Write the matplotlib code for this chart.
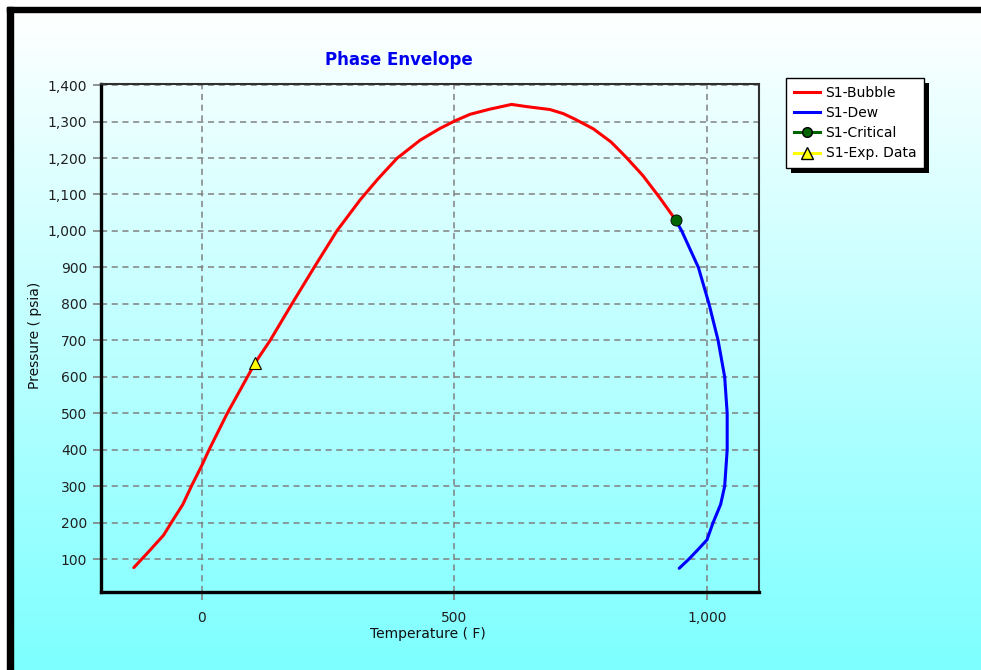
import numpy as np
import matplotlib
matplotlib.use("Agg")
import matplotlib.pyplot as plt
from matplotlib.patches import Rectangle
from matplotlib.ticker import FuncFormatter
from matplotlib.lines import Line2D

plt.rcParams['font.family'] = ['DejaVu Sans']

# ---- data ----
bubble_T = [-135, -106, -76, -60, -38, -20, 0, 14, 50, 90, 105, 135, 178, 222, 267,
            313, 348, 386, 432, 471, 501, 531, 570, 613, 643, 689, 715, 738, 775, 810,
            840, 873, 906, 938]
bubble_P = [77, 120, 166, 202, 250, 303, 358, 400, 500, 600, 638, 700, 800, 900, 1000,
            1085, 1142, 1199, 1249, 1281, 1302, 1320, 1334, 1347, 1341, 1333, 1322, 1307,
            1280, 1244, 1202, 1152, 1092, 1030]
dew_T = [938, 950, 983, 1004, 1022, 1035, 1040, 1040, 1035, 1027, 1012, 1000, 982, 964, 945]
dew_P = [1030, 1000, 900, 800, 700, 600, 500, 400, 300, 250, 200, 153, 126, 100, 75]
crit_T = [938]
crit_P = [1030]
exp_T = [105]
exp_P = [638]
x_ticks = [0, 500, 1000]
y_ticks = list(range(100, 1401, 100))

W, H = 981, 670
fig = plt.figure(figsize=(W / 100, H / 100), dpi=100)

# background gradient
bg = fig.add_axes([0, 0, 1, 1], zorder=-10)
r = np.clip(255 - 130 * (np.arange(H) - 10) / 660, 125, 255) / 255.0
img = np.zeros((H, 1, 3))
img[:, 0, 0] = r
img[:, 0, 1] = 1
img[:, 0, 2] = 1
bg.imshow(img, aspect='auto', extent=[0, W, H, 0])
bg.set_xlim(0, W)
bg.set_ylim(H, 0)
bg.axis('off')
bg.add_patch(Rectangle((0, 0), W, 7, color='white', zorder=2))
bg.add_patch(Rectangle((0, 0), 7, H, color='white', zorder=2))
bg.add_patch(Rectangle((7, 7), W, 5, color='black', zorder=3))
bg.add_patch(Rectangle((7, 7), 6, H, color='black', zorder=3))

# main axes
L, R, T, B = 101, 759, 84, 592
ax = fig.add_axes([L / W, (H - B) / H, (R - L) / W, (B - T) / H])
ax.set_facecolor('none')
ax.set_xlim(-200, 1103)
ax.set_ylim(10, 1403)
ax.set_xticks(x_ticks)
ax.set_yticks(y_ticks)
fmt = FuncFormatter(lambda v, p: f"{int(v):,}")
ax.xaxis.set_major_formatter(fmt)
ax.yaxis.set_major_formatter(fmt)
ax.tick_params(axis='both', direction='out', length=6, width=1.2, color='#808080',
               labelsize=10, labelcolor='#202020', pad=4)
ax.tick_params(axis='x', pad=8)
ax.grid(True, color='#808080', linestyle=(0, (4, 3)), linewidth=1.1)
for s in ['left', 'bottom']:
    ax.spines[s].set_linewidth(2.4)
    ax.spines[s].set_color('black')
for s in ['top', 'right']:
    ax.spines[s].set_linewidth(1.5)
    ax.spines[s].set_color('#303030')

ax.plot(bubble_T, bubble_P, color='#ff0000', lw=2.2, solid_capstyle='round',
        solid_joinstyle='round', zorder=3)
ax.plot(dew_T, dew_P, color='#0000ff', lw=2.2, solid_capstyle='round',
        solid_joinstyle='round', zorder=3)
ax.plot(crit_T, crit_P, 'o', color='#006400', mec='black', mew=0.6, ms=8, zorder=4)
ax.plot(exp_T, exp_P, '^', color='#ffff00', mec='black', mew=0.8, ms=9, zorder=4)

fig.text(399 / W, 1 - 60 / H, 'Phase Envelope', color='#0000ee', fontsize=12,
         fontweight='bold', ha='center', va='center')
fig.text(428 / W, 1 - 634 / H, 'Temperature ( F)', fontsize=10, color='#101010',
         ha='center', va='center')
fig.text(35 / W, 1 - 335 / H, 'Pressure ( psia)', fontsize=10, color='#101010',
         ha='center', va='center', rotation=90)

handles = [
    Line2D([], [], color='#ff0000', lw=2.2),
    Line2D([], [], color='#0000ff', lw=2.2),
    Line2D([], [], color='#006400', lw=2.2, marker='o', mfc='#006400', mec='black', ms=7),
    Line2D([], [], color='#ffff00', lw=2.2, marker='^', mfc='#ffff00', mec='black', ms=8),
]
labels = ['S1-Bubble', 'S1-Dew', 'S1-Critical', 'S1-Exp. Data']
leg = fig.legend(handles, labels, loc='upper left',
                 bbox_to_anchor=(786 / W, 1 - 78 / H), bbox_transform=fig.transFigure,
                 fontsize=10, frameon=True, fancybox=False, borderaxespad=0,
                 handlelength=1.9, handletextpad=0.4, labelspacing=0.45,
                 borderpad=0.55)
leg.get_frame().set_edgecolor('black')
leg.get_frame().set_linewidth(1.0)
leg.get_frame().set_facecolor('white')
leg.get_frame().set_alpha(1)
leg.set_zorder(5)

fig.canvas.draw()
bb = leg.get_window_extent()
sh = Rectangle((bb.x0 + 5, bb.y0 - 5), bb.width, bb.height, transform=None,
               facecolor='black', edgecolor='none', zorder=4)
fig.patches.append(sh)

fig.savefig('out.png', dpi=100)
